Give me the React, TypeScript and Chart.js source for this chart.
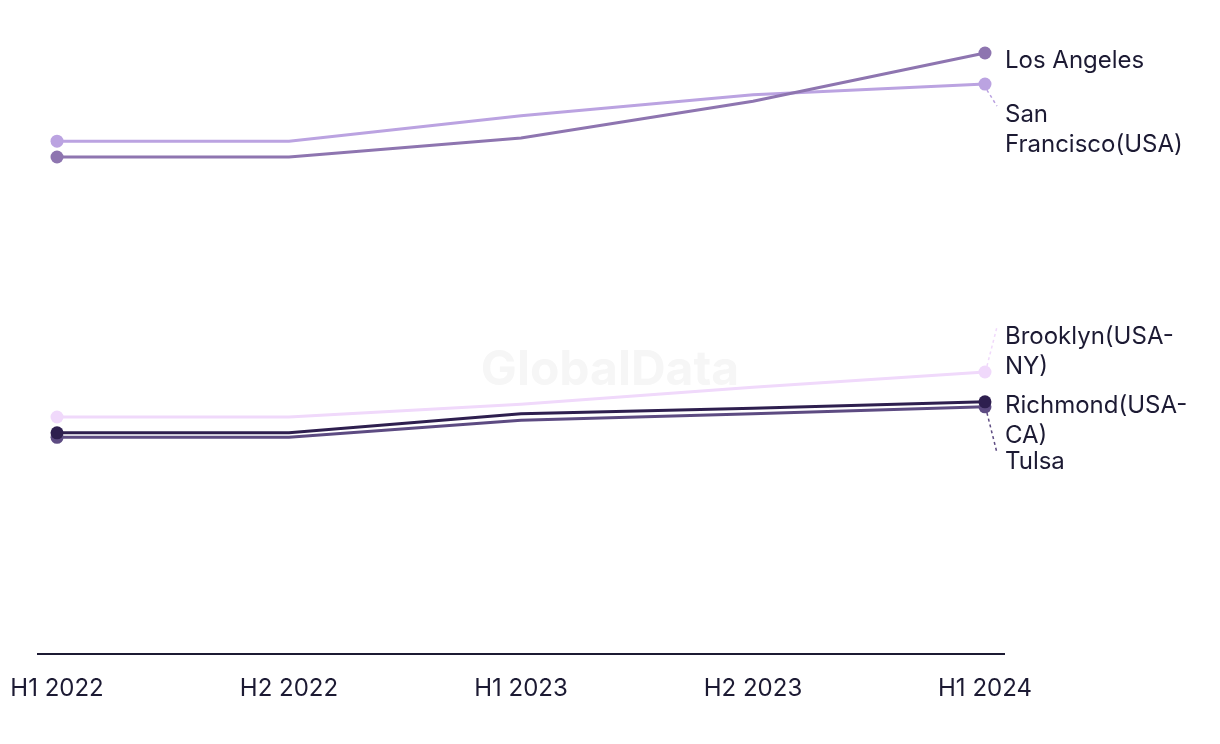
import React, { useEffect, useRef } from "react";
import { Chart, registerables } from "chart.js";

Chart.register(...registerables);

const periods = ["H1 2022", "H2 2022", "H1 2023", "H2 2023", "H1 2024"];
const losAngeles = [78.4, 78.4, 81.4, 87.2, 94.8];
const sanFrancisco = [80.9, 80.9, 84.9, 88.2, 89.9];
const brooklyn = [37.4, 37.4, 39.4, 42.1, 44.5];
const richmond = [34.9, 34.9, 37.9, 38.8, 39.8];
const tulsa = [34.2, 34.2, 36.9, 37.9, 39.0];

const seriesNames = [
  ["Los Angeles"],
  ["San", "Francisco(USA)"],
  ["Brooklyn(USA-", "NY)"],
  ["Richmond(USA-", "CA)"],
  ["Tulsa"],
];
const seriesValues = [losAngeles, sanFrancisco, brooklyn, richmond, tulsa];
const seriesColors = ["#8e75b0", "#bba3e1", "#f0d9fb", "#2e1f4f", "#5d4b82"];
// label layout: vertical shift (px) of label's first line from the end point
const labelShift = [8, 31, -35, 4, 55];

const FONT = "Inter, 'Noto Sans', sans-serif";
const TEXT = "#1c1a33";

const labelPlugin = {
  id: "endLabels",
  beforeDatasetsDraw(chart: any) {
    const { ctx } = chart;
    ctx.save();
    ctx.font = `bold 48px ${FONT}`;
    ctx.fillStyle = "#f6f6f6";
    ctx.textAlign = "center";
    ctx.textBaseline = "middle";
    ctx.fillText("GlobalData", 610, 371);
    ctx.restore();
  },
  afterDatasetsDraw(chart: any) {
    const { ctx } = chart;
    ctx.save();
    ctx.font = `24px ${FONT}`;
    ctx.textAlign = "left";
    ctx.textBaseline = "middle";
    chart.data.datasets.forEach((ds: any, i: number) => {
      const meta = chart.getDatasetMeta(i);
      const pt = meta.data[meta.data.length - 1];
      const px = pt.x;
      const py = pt.y;
      const lines = seriesNames[i];
      const shift = labelShift[i];
      const ty = py + shift;
      const tx = px + 20;
      if (Math.abs(shift) > 15) {
        ctx.save();
        ctx.strokeStyle = seriesColors[i];
        ctx.lineWidth = 1.5;
        ctx.setLineDash([3, 3]);
        ctx.beginPath();
        ctx.moveTo(px + 2, py + (shift > 0 ? 6 : -6));
        ctx.lineTo(px + 12, shift > 0 ? ty - 9 : ty - 10);
        ctx.stroke();
        ctx.restore();
      }
      ctx.fillStyle = TEXT;
      lines.forEach((ln: string, k: number) => {
        ctx.fillText(ln, tx, ty + k * 30);
      });
    });
    ctx.restore();
  },
};

export default function App() {
  const ref = useRef<HTMLCanvasElement>(null);
  useEffect(() => {
    document.body.style.margin = "0";
    const last = periods.length - 1;
    const chart = new Chart(ref.current!, {
      type: "line",
      data: {
        datasets: seriesValues.map((vals, i) => ({
          label: seriesNames[i].join(" "),
          data: vals.map((v, j) => ({ x: j, y: v })),
          borderColor: seriesColors[i],
          backgroundColor: seriesColors[i],
          borderWidth: 3,
          tension: 0,
          pointRadius: (c: any) => (c.dataIndex === 0 || c.dataIndex === last ? 6.5 : 0),
          pointHoverRadius: 0,
          pointBorderWidth: 0,
        })),
      },
      options: {
        animation: false,
        responsive: false,
        events: [],
        layout: { padding: { left: 38, right: 216, top: 20, bottom: 21 } },
        plugins: { legend: { display: false }, tooltip: { enabled: false } },
        scales: {
          x: {
            type: "linear",
            min: -0.082,
            max: last + 0.082,
            afterBuildTicks: (scale: any) => {
              scale.ticks = periods.map((_, i) => ({ value: i }));
            },
            afterFit: (scale: any) => {
              scale.paddingLeft = 0;
              scale.paddingRight = 0;
            },
            grid: { display: false, drawTicks: false },
            border: { display: true, color: "#1c1a33", width: 2 },
            ticks: {
              padding: 20,
              autoSkip: false,
              maxRotation: 0,
              color: TEXT,
              font: { family: FONT, size: 24 },
              callback: (v: any) => periods[Math.round(Number(v))] ?? "",
            },
          },
          y: { display: false, min: 0, max: 100 },
        },
      },
      plugins: [labelPlugin],
    });
    return () => chart.destroy();
  }, []);
  return (
    <div style={{ position: "absolute", left: 0, top: 0, width: 1220, height: 744 }}>
      <canvas ref={ref} width={1220} height={744} />
    </div>
  );
}
